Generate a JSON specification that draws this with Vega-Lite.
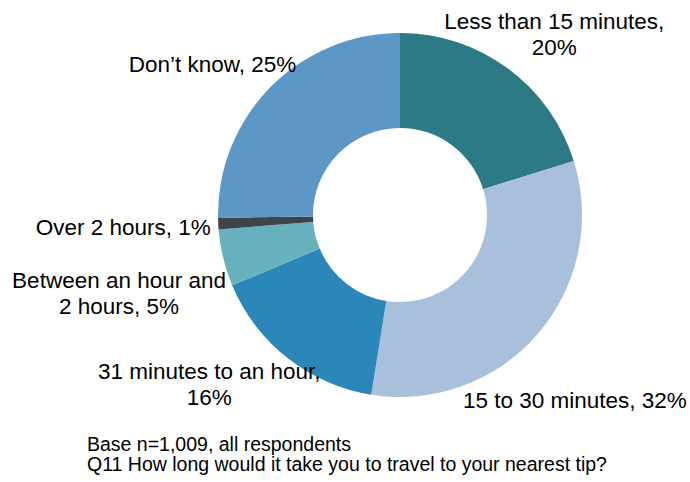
{
  "$schema": "https://vega.github.io/schema/vega-lite/v6.json",
  "autosize": {"type": "none"},
  "padding": {"left": 110, "top": 0, "right": 0, "bottom": 52},
  "width": 580,
  "height": 430,
  "background": "white",
  "config": {"view": {"stroke": null}, "font": "Liberation Sans"},
  "title": {
    "text": ["Base n=1,009, all respondents", "Q11 How long would it take you to travel to your nearest tip?"],
    "orient": "bottom",
    "anchor": "start",
    "frame": "group",
    "baseline": "top",
    "dx": -23,
    "offset": -16,
    "fontSize": 19.5,
    "lineHeight": 20,
    "fontWeight": "normal",
    "color": "#000000",
    "font": "Liberation Sans"
  },
  "data": {
    "values": [
      {"rank": 1, "cat": "Less than 15 minutes", "value": 20, "label": "Less than 15 minutes,\n20%"},
      {"rank": 2, "cat": "15 to 30 minutes", "value": 32, "label": "15 to 30 minutes, 32%"},
      {"rank": 3, "cat": "31 minutes to an hour", "value": 16, "label": "31 minutes to an hour,\n16%"},
      {"rank": 4, "cat": "Between an hour and 2 hours", "value": 5, "label": "Between an hour and\n2 hours, 5%"},
      {"rank": 5, "cat": "Over 2 hours", "value": 1, "label": "Over 2 hours, 1%"},
      {"rank": 6, "cat": "Don't know", "value": 25, "label": "Don’t know, 25%"}
    ]
  },
  "encoding": {
    "theta": {"field": "value", "type": "quantitative", "stack": true},
    "order": {"field": "rank", "type": "ordinal"}
  },
  "layer": [
    {
      "mark": {"type": "arc", "outerRadius": 182, "innerRadius": 87},
      "encoding": {
        "color": {
          "field": "cat",
          "type": "nominal",
          "legend": null,
          "sort": null,
          "scale": {
            "domain": ["Less than 15 minutes", "15 to 30 minutes", "31 minutes to an hour", "Between an hour and 2 hours", "Over 2 hours", "Don't know"],
            "range": ["#2D7A87", "#A9C0DC", "#2B87B9", "#67B0BE", "#3B454B", "#5D97C6"]
          }
        }
      }
    },
    {
      "mark": {"type": "text", "radius": 247, "thetaOffset": 0.04, "fontSize": 22.5, "lineHeight": 26, "lineBreak": "\n", "color": "#000000"},
      "encoding": {"text": {"condition": {"test": "datum.rank === 1", "field": "label"}, "value": ""}}
    },
    {
      "mark": {"type": "text", "radius": 255, "thetaOffset": 0.101, "fontSize": 22.5, "lineHeight": 26, "lineBreak": "\n", "color": "#000000"},
      "encoding": {"text": {"condition": {"test": "datum.rank === 2", "field": "label"}, "value": ""}}
    },
    {
      "mark": {"type": "text", "radius": 247, "thetaOffset": 0.216, "fontSize": 22.5, "lineHeight": 26, "lineBreak": "\n", "color": "#000000"},
      "encoding": {"text": {"condition": {"test": "datum.rank === 3", "field": "label"}, "value": ""}}
    },
    {
      "mark": {"type": "text", "radius": 288.6, "thetaOffset": 0.007, "fontSize": 22.5, "lineHeight": 26, "lineBreak": "\n", "color": "#000000"},
      "encoding": {"text": {"condition": {"test": "datum.rank === 4", "field": "label"}, "value": ""}}
    },
    {
      "mark": {"type": "text", "radius": 277, "fontSize": 22.5, "lineHeight": 26, "lineBreak": "\n", "color": "#000000"},
      "encoding": {"text": {"condition": {"test": "datum.rank === 5", "field": "label"}, "value": ""}}
    },
    {
      "mark": {"type": "text", "radius": 240, "thetaOffset": -0.103, "fontSize": 22.5, "lineHeight": 26, "lineBreak": "\n", "color": "#000000"},
      "encoding": {"text": {"condition": {"test": "datum.rank === 6", "field": "label"}, "value": ""}}
    }
  ]
}
